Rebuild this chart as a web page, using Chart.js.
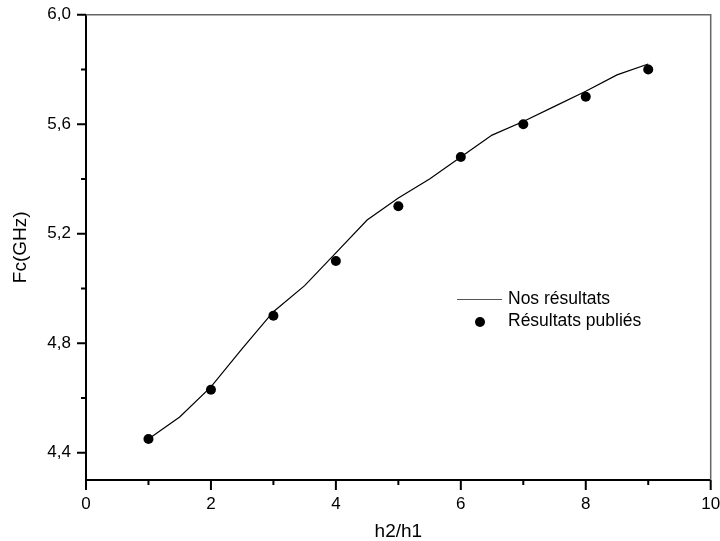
<!DOCTYPE html>
<html>
<head>
<meta charset="utf-8">
<script src="https://cdn.jsdelivr.net/npm/chart.js@4/dist/chart.umd.min.js"></script>
<style>
  body { margin: 0; background: #fff; }
  canvas { display: block; }
</style>
</head>
<body>
<canvas id="fcChart" width="720" height="541"></canvas>
<script>
// calculated curve, sampled every 0.5
const calcX = [1, 1.5, 2, 2.5, 3, 3.5, 4, 4.5, 5, 5.5, 6, 6.5, 7, 7.5, 8, 8.5, 9];
const calcY = [4.45, 4.53, 4.64, 4.78, 4.915, 5.01, 5.13, 5.25, 5.33, 5.40, 5.48, 5.56, 5.61, 5.665, 5.72, 5.78, 5.82];

// published points
const pubX = [1, 2, 3, 4, 5, 6, 7, 8, 9];
const pubY = [4.45, 4.63, 4.90, 5.10, 5.30, 5.48, 5.60, 5.70, 5.80];

const seriesNames = ['Nos résultats', 'Résultats publiés'];

const xMajor = [0, 2, 4, 6, 8, 10];
const xMinor = [1, 3, 5, 7, 9];
const yMajor = [4.4, 4.8, 5.2, 5.6, 6.0];
const yMinor = [4.6, 5.0, 5.4, 5.8];

const FONT = "'Liberation Sans', Arial, sans-serif";

const toPoints = (xs, ys) => xs.map((x, i) => ({ x: x, y: ys[i] }));

// tick marks, top/right frame and the in-plot legend
const framePlugin = {
    id: 'frame',
    afterDraw: function (chart) {
        const ctx = chart.ctx;
        const a = chart.chartArea;
        const xs = chart.scales.x;
        const ys = chart.scales.y;
        ctx.save();

        ctx.strokeStyle = '#666';
        ctx.lineWidth = 1.5;
        ctx.beginPath();
        ctx.moveTo(a.left, a.top);
        ctx.lineTo(a.right, a.top);
        ctx.lineTo(a.right, a.bottom);
        ctx.stroke();

        ctx.strokeStyle = '#000';
        ctx.lineWidth = 2;
        ctx.beginPath();
        xMajor.forEach((v) => {
            const px = xs.getPixelForValue(v);
            ctx.moveTo(px, a.bottom);
            ctx.lineTo(px, a.bottom + 10);
        });
        xMinor.forEach((v) => {
            const px = xs.getPixelForValue(v);
            ctx.moveTo(px, a.bottom);
            ctx.lineTo(px, a.bottom + 5);
        });
        yMajor.forEach((v) => {
            const py = ys.getPixelForValue(v);
            ctx.moveTo(a.left, py);
            ctx.lineTo(a.left - 9, py);
        });
        yMinor.forEach((v) => {
            const py = ys.getPixelForValue(v);
            ctx.moveTo(a.left, py);
            ctx.lineTo(a.left - 5, py);
        });
        ctx.stroke();

        // legend
        const lx = 457, ly = 299;
        ctx.strokeStyle = '#555';
        ctx.lineWidth = 1;
        ctx.beginPath();
        ctx.moveTo(lx, ly + 0.5);
        ctx.lineTo(lx + 45, ly + 0.5);
        ctx.stroke();

        ctx.fillStyle = '#000';
        ctx.beginPath();
        ctx.arc(lx + 23, ly + 23, 5, 0, Math.PI * 2);
        ctx.fill();

        ctx.font = '17.5px ' + FONT;
        ctx.textBaseline = 'middle';
        ctx.fillText(chart.data.datasets[0].label, lx + 51, ly);
        ctx.fillText(chart.data.datasets[1].label, lx + 51, ly + 22);
        ctx.restore();
    },
};

new Chart(document.getElementById('fcChart').getContext('2d'), {
    type: 'scatter',
    data: {
        datasets: [
            {
                label: seriesNames[0],
                data: toPoints(calcX, calcY),
                showLine: true,
                borderColor: '#000',
                borderWidth: 1.2,
                pointRadius: 0,
                tension: 0,
            },
            {
                label: seriesNames[1],
                data: toPoints(pubX, pubY),
                showLine: false,
                backgroundColor: '#000',
                borderColor: '#000',
                pointRadius: 5,
                pointBorderWidth: 0,
            },
        ],
    },
    options: {
        responsive: false,
        devicePixelRatio: 1,
        animation: false,
        layout: { padding: { top: 14.7, right: 9.3, left: 0, bottom: 0 } },
        plugins: {
            legend: { display: false },
            tooltip: { enabled: false },
        },
        scales: {
            x: {
                type: 'linear',
                min: 0,
                max: 10,
                afterBuildTicks: (scale) => { scale.ticks = xMajor.map((v) => ({ value: v })); },
                afterFit: (scale) => {
                    scale.height = 61;
                    scale.paddingLeft = 0;
                    scale.paddingRight = 0;
                },
                grid: { display: true, drawOnChartArea: false, drawTicks: false },
                border: { color: '#000', width: 2 },
                ticks: {
                    padding: 14,
                    color: '#000',
                    font: { family: FONT, size: 17 },
                    maxRotation: 0,
                    callback: (v) => String(v),
                },
                title: {
                    display: true,
                    text: 'h2/h1',
                    color: '#000',
                    font: { family: FONT, size: 19 },
                    padding: { top: 0, bottom: -2 },
                },
            },
            y: {
                type: 'linear',
                min: 4.3,
                max: 6.0,
                afterBuildTicks: (scale) => { scale.ticks = yMajor.map((v) => ({ value: v })); },
                afterFit: (scale) => {
                    scale.width = 86;
                    scale.paddingTop = 0;
                    scale.paddingBottom = 0;
                },
                grid: { display: true, drawOnChartArea: false, drawTicks: false },
                border: { color: '#000', width: 2 },
                ticks: {
                    padding: 15,
                    color: '#000',
                    font: { family: FONT, size: 17 },
                    callback: (v) => v.toFixed(1).replace('.', ','),
                },
                title: {
                    display: true,
                    text: 'Fc(GHz)',
                    color: '#000',
                    font: { family: FONT, size: 19 },
                    padding: { top: 9, bottom: 0 },
                },
            },
        },
    },
    plugins: [framePlugin],
});
</script>
</body>
</html>
